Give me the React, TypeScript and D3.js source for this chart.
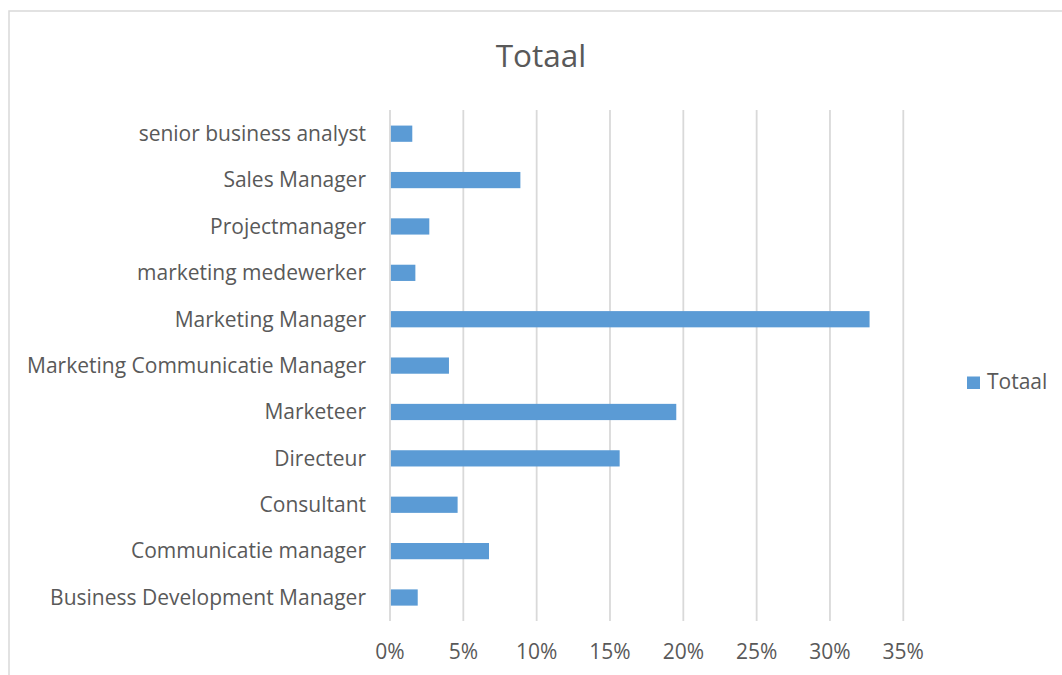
import React from "react";
import * as d3 from "d3";

const categories = [
  "senior business analyst",
  "Sales Manager",
  "Projectmanager",
  "marketing medewerker",
  "Marketing Manager",
  "Marketing Communicatie Manager",
  "Marketeer",
  "Directeur",
  "Consultant",
  "Communicatie manager",
  "Business Development Manager",
];
const values = [0.0152, 0.0889, 0.0268, 0.0173, 0.327, 0.0402, 0.1952, 0.1566, 0.0461, 0.0675, 0.0189];
const ticks = [0, 0.05, 0.1, 0.15, 0.2, 0.25, 0.3, 0.35];
const seriesName = "Totaal";
const title = "Totaal";

const FONT = "'Open Sans', 'Noto Sans', sans-serif";
const TEXT = "#595959";
const GRID = "#d9d9d9";
const BAR = "#5b9bd5";

export default function App() {
  const x = d3.scaleLinear().domain([0, 0.35]).range([390, 903.3]);
  const y = d3
    .scaleBand<string>()
    .domain(categories)
    .range([110.5, 620.7])
    .paddingInner(0.65)
    .paddingOuter(0.325);
  const fmt = d3.format(".0%");
  return (
    <svg
      width={1062}
      height={675}
      style={{ position: "absolute", left: 0, top: 0, background: "#fff" }}
      fontFamily={FONT}
    >
      <rect x={9} y={11} width={1100} height={700} fill="#fff" stroke={GRID} strokeWidth={1.5} />
      <text x={541} y={67} textAnchor="middle" fontSize={31.5} fill={TEXT}>
        {title}
      </text>
      {ticks.map((t) => (
        <g key={t}>
          <line x1={x(t)} x2={x(t)} y1={110} y2={621} stroke={GRID} strokeWidth={1.8} />
          <text x={x(t)} y={659} textAnchor="middle" fontSize={21} fill={TEXT}>
            {fmt(t)}
          </text>
        </g>
      ))}
      {categories.map((c, i) => (
        <g key={c}>
          <rect
            x={x(0) + 0.9}
            y={y(c)!}
            width={x(values[i]) - x(0) - 0.9}
            height={y.bandwidth()}
            fill={BAR}
          />
          <text
            x={366}
            y={y(c)! + y.bandwidth() / 2}
            dy="0.35em"
            textAnchor="end"
            fontSize={21}
            fill={TEXT}
          >
            {c}
          </text>
        </g>
      ))}
      <rect x={967} y={376.5} width={13} height={12.5} fill={BAR} />
      <text x={987} y={388.5} fontSize={21} fill={TEXT}>
        {seriesName}
      </text>
    </svg>
  );
}
